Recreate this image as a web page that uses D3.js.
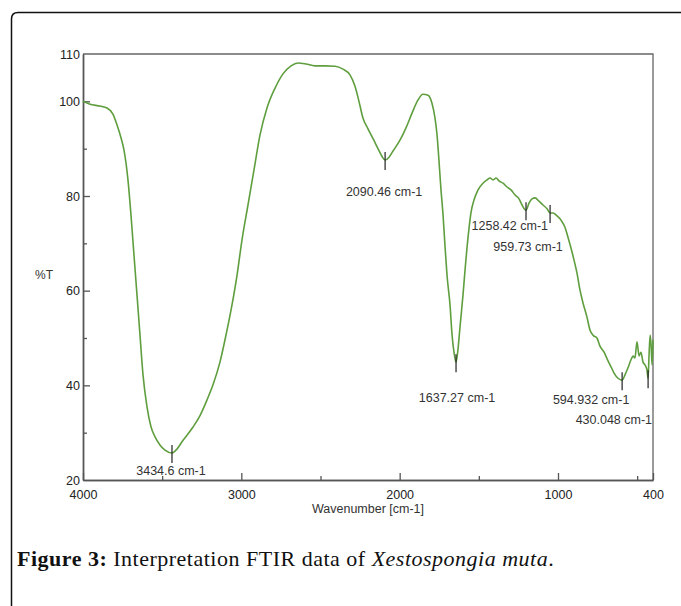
<!DOCTYPE html>
<html>
<head>
<meta charset="utf-8">
<script src="https://cdn.jsdelivr.net/npm/d3@7"></script>
<style>
  body { margin: 0; background: #fff; }
  svg { display: block; }
</style>
</head>
<body>
<svg id="chart" width="681" height="606"></svg>
<script>
// spectrum: wavenumber (cm-1) and %T
const wavenumber = [4000, 3956, 3893, 3848, 3811, 3785, 3760, 3741, 3716, 3697, 3678, 3659, 3640, 3621, 3596,
  3571, 3545, 3514, 3482, 3438, 3413, 3368, 3305, 3261, 3217, 3179, 3135, 3097, 3059, 3027, 2996, 2958, 2920,
  2882, 2838, 2787, 2737, 2686, 2642, 2592, 2535, 2472, 2408, 2358, 2314, 2282, 2257, 2232, 2200, 2168, 2137,
  2112, 2092, 2067, 2042, 1998, 1960, 1922, 1884, 1853, 1821, 1796, 1777, 1764, 1752, 1739, 1726, 1714, 1701,
  1682, 1669, 1657, 1644, 1632, 1619, 1600, 1587, 1568, 1549, 1530, 1505, 1474, 1448, 1429, 1410, 1391, 1373,
  1347, 1322, 1297, 1271, 1246, 1227, 1202, 1183, 1164, 1145, 1120, 1095, 1069, 1050, 1032, 1006, 981, 956,
  937, 918, 899, 880, 861, 842, 817, 798, 779, 754, 735, 709, 690, 665, 646, 621, 595, 577, 558, 539, 526, 514,
  501, 488, 476, 463, 450, 438, 431, 425, 418, 412, 406, 400];
const transmittance = [100.0, 99.4, 99.0, 98.6, 97.3, 95.0, 92.3, 89.7, 83.4, 76.0, 67.5, 59.1, 50.6, 42.2, 35.5,
  31.3, 29.1, 27.4, 26.3, 25.7, 26.3, 28.4, 31.2, 33.6, 36.9, 40.1, 44.9, 50.6, 57.0, 63.3, 70.7, 78.1, 85.5,
  92.9, 98.6, 102.8, 105.8, 107.5, 108.1, 107.9, 107.5, 107.5, 107.4, 106.8, 105.6, 103.2, 100.0, 96.5, 94.2, 92.1, 90.0,
  88.4, 87.6, 88.2, 89.5, 91.8, 94.4, 97.5, 100.3, 101.5, 101.3, 99.6, 96.5, 92.9, 87.6, 81.3, 76.0, 69.6, 63.3,
  57.0, 50.6, 47.0, 44.9, 47.5, 52.3, 59.1, 64.4, 71.3, 76.6, 79.2, 81.3, 82.7, 83.4, 83.8, 83.4, 83.8, 83.2,
  82.7, 81.9, 81.3, 80.2, 79.4, 78.1, 77.0, 78.5, 79.4, 79.6, 78.9, 78.1, 77.3, 76.4, 76.4, 75.8, 74.9, 73.4,
  71.3, 69.0, 66.5, 63.7, 60.1, 57.4, 54.4, 51.7, 50.6, 50.0, 48.3, 47.0, 45.6, 43.9, 42.6, 41.5, 41.1, 42.2, 43.7, 45.4, 46.2, 45.8,
  49.2, 46.2, 47.0, 44.9, 44.3, 43.2, 41.5, 46.4, 50.6, 48.5, 44.3, 49.6];

// peak markers: label text, where the marker sits
const peakLabels = ["3434.6 cm-1", "2090.46 cm-1", "1637.27 cm-1", "1258.42 cm-1", "959.73 cm-1", "594.932 cm-1", "430.048 cm-1"];
const peakWave = [3438, 2092, 1644, 1202, 1050, 595, 431];
const peakT = [25.7, 87.6, 44.9, 77.0, 76.4, 41.1, 41.5];

const xMajor = [4000, 3000, 2000, 1000, 400];
const xMinor = [3500, 2500, 1500, 500];
const yLabeled = [110, 100, 80, 60, 40, 20];
const yMajor = [100, 80, 60, 40];
const yMinor = [90, 70, 50, 30];

// label placement relative to marker [anchor, dx, dy]
const labelPlace = [["middle", -1, 22], ["middle", -1, 36], ["middle", 1, 40], ["end", 22, 20],
  ["middle", -22, 38], ["middle", -31, 24], ["end", 4, 46]];

const svg = d3.select("#chart");
const pLeft = 83, pRight = 653, pTop = 54, pBottom = 480;
const x = d3.scaleLinear().domain([4000, 400]).range([pLeft, pRight]);
const y = d3.scaleLinear().domain([20, 110]).range([pBottom, pTop]);
const font = "'Liberation Sans', Arial, Helvetica, sans-serif";

// outer frame
svg.append("path")
  .attr("d", `M11.5,606 V19 Q11.5,12.5 18,12.5 H681`)
  .attr("fill", "none").attr("stroke", "#111").attr("stroke-width", 1.5);

// plot box top and right
svg.append("path")
  .attr("d", `M${pLeft},${pTop} H${pRight} V${pBottom}`)
  .attr("fill", "none").attr("stroke", "#666").attr("stroke-width", 1.3);

svg.append("g").attr("transform", `translate(0,${pBottom})`)
  .call(d3.axisBottom(x).tickValues(xMajor).tickSizeInner(-7).tickSizeOuter(0).tickPadding(10).tickFormat(d3.format("d")));
svg.append("g").attr("transform", `translate(0,${pBottom})`)
  .call(d3.axisBottom(x).tickValues(xMinor).tickSizeInner(-4).tickSizeOuter(0).tickFormat(""));
svg.append("g").attr("transform", `translate(${pLeft},0)`)
  .call(d3.axisLeft(y).tickValues(yLabeled).tickSize(0).tickPadding(3));
svg.append("g").attr("transform", `translate(${pLeft},0)`)
  .call(d3.axisLeft(y).tickValues(yMajor).tickSizeInner(-7).tickSizeOuter(0).tickFormat(""));
svg.append("g").attr("transform", `translate(${pLeft},0)`)
  .call(d3.axisLeft(y).tickValues(yMinor).tickSizeInner(-4).tickSizeOuter(0).tickFormat(""));

svg.selectAll(".domain, .tick line").attr("stroke", "#555").attr("stroke-width", 1.3);
svg.selectAll(".tick text").attr("font-family", font).attr("font-size", 12.5).attr("fill", "#222");

svg.append("text").attr("x", 44).attr("y", 279).attr("text-anchor", "middle")
  .attr("font-family", font).attr("font-size", 12).attr("fill", "#333").text("%T");
svg.append("text").attr("x", 368).attr("y", 513).attr("text-anchor", "middle")
  .attr("font-family", font).attr("font-size", 12.5).attr("fill", "#333").text("Wavenumber [cm-1]");

// spectrum
const pts = wavenumber.map((w, i) => [w, transmittance[i]]);
svg.append("path").datum(pts)
  .attr("d", d3.line().x(d => x(d[0])).y(d => y(d[1])).curve(d3.curveMonotoneX))
  .attr("fill", "none").attr("stroke", "#5f9e3e").attr("stroke-width", 1.6);

// peak markers and labels
peakLabels.forEach((lab, i) => {
  const px = x(peakWave[i]), py = y(peakT[i]);
  svg.append("line").attr("x1", px).attr("x2", px).attr("y1", py - 8).attr("y2", py + 10)
    .attr("stroke", "#222").attr("stroke-width", 1.2);
  const [anchor, dx, dy] = labelPlace[i];
  svg.append("text").attr("x", px + dx).attr("y", py + dy).attr("text-anchor", anchor)
    .attr("font-family", font).attr("font-size", 12.5).attr("fill", "#333").text(lab);
});

// caption
const cap = svg.append("text").attr("x", 17).attr("y", 566)
  .attr("font-family", "'Liberation Serif', 'Times New Roman', serif").attr("font-size", 22)
  .attr("letter-spacing", 0.5).attr("fill", "#111");
cap.append("tspan").attr("font-weight", "bold").text("Figure 3:");
cap.append("tspan").text(" Interpretation FTIR data of ");
cap.append("tspan").attr("font-style", "italic").text("Xestospongia muta");
cap.append("tspan").text(".");
</script>
</body>
</html>
